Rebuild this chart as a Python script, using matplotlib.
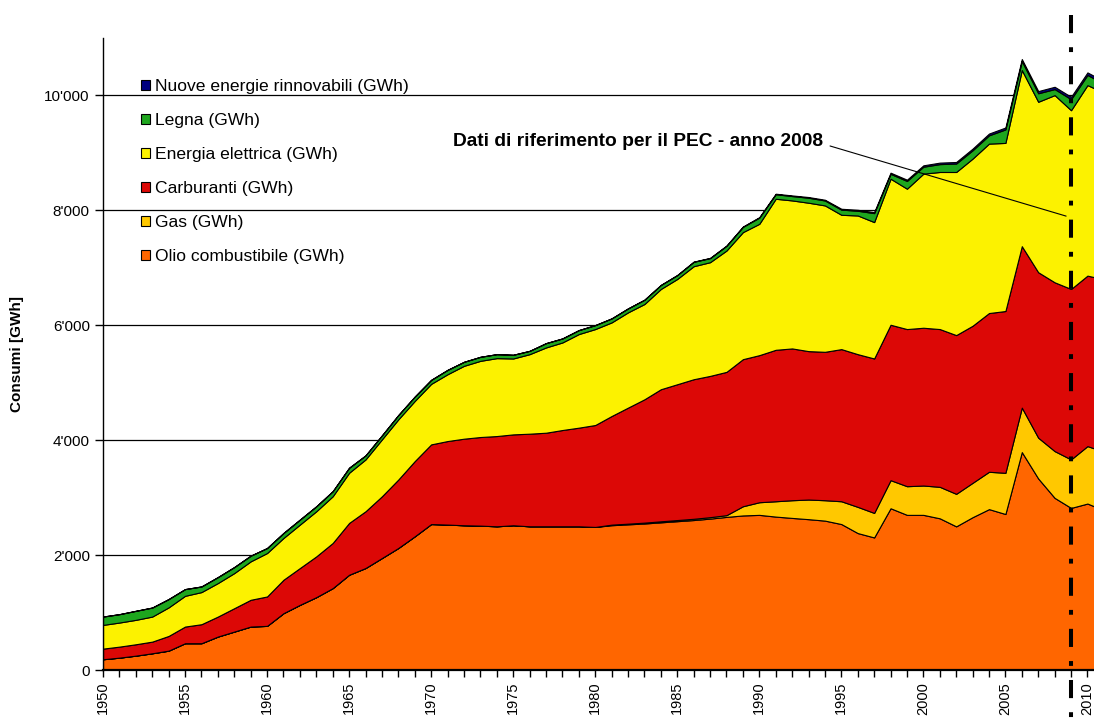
import matplotlib
matplotlib.use("Agg")
import matplotlib.pyplot as plt
from matplotlib.patches import Patch
from matplotlib.ticker import FuncFormatter, MultipleLocator

plt.rcParams['font.family'] = ['Liberation Sans', 'DejaVu Sans']

# anni (la serie prosegue oltre il bordo destro del grafico)
anni = list(range(1950, 2012))

# consumi per vettore energetico [GWh]
olio = [187, 215, 250, 291, 337, 466, 466, 582, 669, 756,
        768, 989, 1134, 1268, 1425, 1658, 1775, 1949, 2124, 2327,
        2540, 2531, 2519, 2513, 2501, 2519, 2501, 2501, 2501, 2501,
        2490, 2520, 2535, 2550, 2570, 2590, 2610, 2635, 2665, 2690,
        2700, 2670, 2647, 2625, 2600, 2540, 2383, 2307, 2815, 2700,
        2700, 2640, 2500, 2660, 2800, 2715, 3793, 3333, 2996, 2821,
        2897, 2780]
gas = [0] * 31 + [10, 12, 15, 18, 20, 22, 25, 30, 160,
                  220, 267, 308, 342, 355, 397, 456, 427, 489, 499,
                  511, 548, 566, 598, 650, 717, 774, 710, 814, 844,
                  1000, 1020]
carburanti = [185, 192, 198, 203, 256, 290, 331, 348, 407, 466,
              512, 582, 641, 710, 786, 902, 988, 1075, 1192, 1309,
              1387, 1454, 1507, 1542, 1571, 1582, 1612, 1629, 1676, 1717,
              1774, 1891, 2020, 2147, 2299, 2364, 2429, 2459, 2494, 2560,
              2560, 2636, 2642, 2583, 2583, 2648, 2658, 2688, 2705, 2735,
              2746, 2746, 2763, 2734, 2763, 2816, 2810, 2880, 2938, 2967,
              2967, 3000]
elettrica = [413, 419, 425, 436, 497, 535, 559, 583, 611, 669,
             756, 727, 756, 785, 813, 873, 902, 990, 1047, 1047,
             1053, 1163, 1268, 1326, 1356, 1321, 1384, 1484, 1524, 1629,
             1670, 1629, 1658, 1658, 1745, 1832, 1967, 1979, 2112, 2211,
             2286, 2629, 2576, 2583, 2548, 2338, 2414, 2374, 2542, 2443,
             2682, 2734, 2839, 2909, 2949, 2926, 3065, 2967, 3258, 3111,
             3316, 3250]
legna = [145, 146, 157, 157, 145, 117, 98, 104, 105, 99,
         87, 87, 87, 87, 88, 87, 70, 70, 75, 76,
         70, 76, 70, 70, 69, 64, 58, 75, 70, 69,
         69, 70, 69, 75, 70, 67, 76, 71, 82, 92,
         108, 79, 76, 87, 86, 90, 82, 156, 85, 135,
         121, 137, 147, 145, 144, 235, 157, 148, 105, 192,
         177, 154]
rinnovabili = [0] * 35 + [3, 4, 4, 5, 6,
                          8, 9, 11, 12, 13, 15, 17, 18, 20, 22,
                          24, 26, 27, 29, 31, 33, 35, 38, 40, 42,
                          44, 46]

serie = [olio, gas, carburanti, elettrica, legna, rinnovabili]
etichette = ['Olio combustibile (GWh)', 'Gas (GWh)', 'Carburanti (GWh)',
             'Energia elettrica (GWh)', 'Legna (GWh)',
             'Nuove energie rinnovabili (GWh)']
colori = ['#FF6600', '#FFC800', '#DC0806', '#FCF200', '#1EA61E', '#000080']

anno_pec = 2009
testo_pec = 'Dati di riferimento per il PEC - anno 2008'

fig = plt.figure(figsize=(10.94, 7.19), dpi=100)
ax = fig.add_axes([103 / 1094, 1 - 670 / 719, 991 / 1094, 632 / 719])

ax.stackplot(anni, *serie, colors=colori, edgecolor='black', linewidth=0.8)

ax.set_xlim(1950, 2010.4)
ax.set_ylim(0, 11000)

ax.yaxis.set_major_locator(MultipleLocator(2000))
ax.yaxis.set_major_formatter(FuncFormatter(lambda v, p: f"{int(v):,}".replace(",", "'")))
ax.yaxis.grid(True, color='black', linewidth=0.9)
ax.set_axisbelow(True)

ax.xaxis.set_major_locator(MultipleLocator(5))
ax.xaxis.set_minor_locator(MultipleLocator(1))
ax.tick_params(axis='x', which='both', direction='out', length=5, width=1, labelsize=10.5, rotation=90)
ax.tick_params(axis='y', direction='out', length=6, width=1, labelsize=11)

for s in ['top', 'right']:
    ax.spines[s].set_visible(False)
ax.spines['left'].set_linewidth(1)
ax.spines['bottom'].set_linewidth(1.6)

ax.set_ylabel('Consumi [GWh]', fontsize=11, fontweight='bold')
ax.yaxis.set_label_coords(-0.08, 0.5)

# legenda (ordine inverso rispetto all'impilamento)
maniglie = [Patch(facecolor=c, edgecolor='black', linewidth=0.8) for c in colori][::-1]
ax.legend(maniglie, etichette[::-1], loc='upper left',
          bbox_to_anchor=(141 / 1094, 1 - 79 / 719), bbox_transform=fig.transFigure,
          frameon=False, fontsize=12.6, handlelength=0.52, handleheight=0.52,
          handletextpad=0.3, labelspacing=1.09, borderpad=0, borderaxespad=0)

# linea verticale anno di riferimento
ax.plot([anno_pec, anno_pec], [1.036, -0.1], transform=ax.get_xaxis_transform(),
        color='black', linewidth=2.9, linestyle=(0, (4.5, 3.5, 1.2, 3.5)), clip_on=False, zorder=5)

ax.annotate(testo_pec, xy=(2008.7, 7900), xytext=(1993.9, 9200),
            ha='right', va='center', fontsize=13.8, fontweight='bold',
            arrowprops=dict(arrowstyle='-', color='black', linewidth=0.8,
                            shrinkA=3, shrinkB=0, relpos=(1, 0.35)))

fig.savefig('out.png', dpi=100)
